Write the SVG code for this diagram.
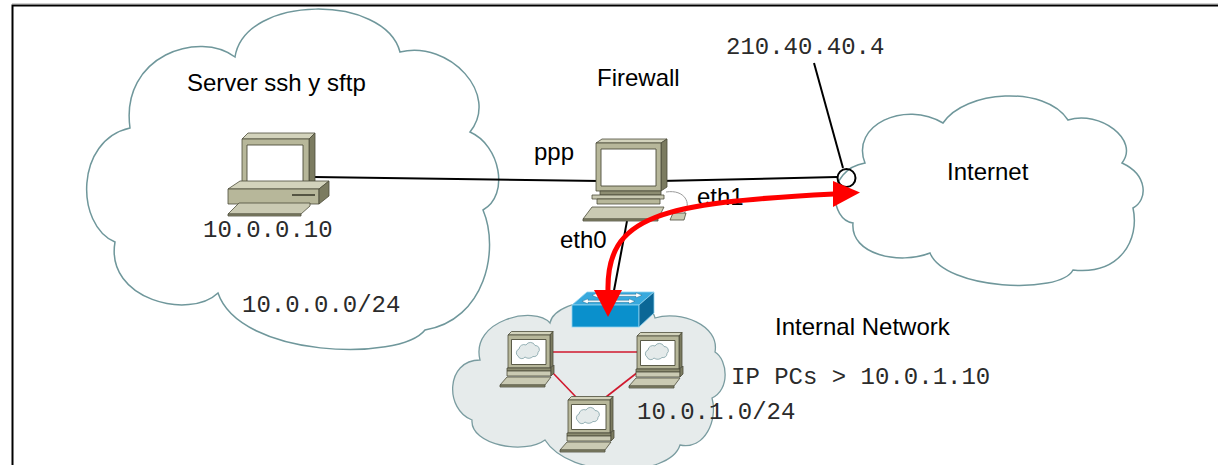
<svg xmlns="http://www.w3.org/2000/svg" width="1218" height="465" viewBox="0 0 1218 465">
  <style>
    .cloud { fill: #ffffff; stroke: #6f979b; stroke-width: 1.5; }
    .cloud-lan { fill: #e6ebeb; stroke: #7a9ca0; stroke-width: 1.3; }
    .wire { stroke: #000; stroke-width: 2; fill: none; }
    .lan { stroke: #d0192e; stroke-width: 1.6; fill: none; }
    .flow { stroke: #ff0000; stroke-width: 5; fill: none; }
    .head { fill: #ff0000; }
    .lbl { font-family: "Liberation Sans", Arial, sans-serif; font-size: 24px; fill: #000; }
    .ip { font-family: "Liberation Mono", "Courier New", monospace; font-size: 24px; fill: #2b2b2b; }
    .pc-top { fill: #d3d3bc; }
    .pc-front { fill: #b7b79a; }
    .pc-side { fill: #7b7b60; }
    .pc-dark { fill: #8c8c71; }
    .pc-key { fill: #cacab3; }
    .pc-edge { stroke: #4d4d3a; stroke-width: 0.8; stroke-linejoin: round; }
    .screen { fill: #ffffff; stroke: #4d4d3a; stroke-width: 0.9; }
  </style>
  <defs>
    <!-- small workstation with a cloud on its screen -->
    <symbol id="mini-pc" overflow="visible">
      <g class="pc-edge">
        <polygon class="pc-top" points="0,0 3.5,-3.5 45,-3.5 42,0"/>
        <polygon class="pc-side" points="42,0 45,-3.5 45,30 42,33"/>
        <rect class="pc-front" x="0" y="0" width="42" height="33"/>
        <rect class="screen" x="3.5" y="4.5" width="34.5" height="25"/>
        <rect class="pc-dark" x="-1" y="33" width="44" height="3"/>
        <rect class="pc-key" x="-1" y="36" width="44" height="5"/>
        <polygon class="pc-side" points="43,33 46,30 46,38 43,41"/>
        <polygon class="pc-key" points="-8,50 -1,42 43,42 37,50"/>
        <rect class="pc-dark" x="-8" y="50" width="45" height="2"/>
      </g>
      <path d="M10,21 a4,4 0 0 1 1,-7 a5,5 0 0 1 7,-4 a5,5 0 0 1 9,0.5 a4,4 0 0 1 3,7 a4,4 0 0 1 -5,4 a6,6 0 0 1 -8,0.5 a4,4 0 0 1 -7,-1 z" fill="#e4eaea" stroke="#7ea0a4" stroke-width="0.8"/>
    </symbol>
  </defs>

  <!-- page frame -->
  <line x1="12" y1="3.5" x2="1218" y2="3.5" stroke="#d0d0d0" stroke-width="1"/>
  <path d="M12.5,465 V5.5 H1218" fill="none" stroke="#000" stroke-width="2"/>

  <!-- server network cloud -->
  <g id="server-net">
    <path class="cloud" d="M235,57 C245,-6 385,-6 400,52 C450,40 500,95 470,132 C500,145 510,195 483,210 C500,250 485,320 425,330 C400,362 240,358 218,293 C190,320 105,300 115,242 C75,225 75,140 130,128 C120,55 200,30 235,57 Z"/>
    <text class="lbl" x="187" y="91">Server ssh y sftp</text>
    <text class="ip" x="203" y="237">10.0.0.10</text>
    <text class="ip" x="242" y="312">10.0.0.0/24</text>
  </g>

  <!-- internal network cloud -->
  <g id="internal-net">
    <path class="cloud-lan" d="M480,360 C470,320 535,305 550,323 C555,295 650,290 655,318 C680,310 720,325 715,352 C728,360 730,390 712,398 C718,420 705,450 680,445 C670,478 570,480 545,440 C525,455 470,445 472,420 C445,410 445,360 480,360 Z"/>
    <text class="lbl" x="775" y="335">Internal Network</text>
    <text class="ip" x="731" y="384">IP PCs &gt; 10.0.1.10</text>
    <text class="ip" x="637" y="419">10.0.1.0/24</text>
  </g>

  <!-- internet cloud -->
  <g id="internet">
    <path class="cloud" stroke-width="1.3" d="M865,163 C850,125 905,100 943,123 C965,90 1045,85 1068,120 C1100,110 1140,140 1122,163 C1148,175 1148,200 1133,208 C1140,240 1120,275 1073,270 C1060,295 945,290 930,253 C900,265 850,255 853,223 C830,220 825,170 865,163 Z"/>
    <text class="lbl" x="947" y="180">Internet</text>
  </g>

  <!-- links -->
  <g id="connectors">
    <line class="wire" x1="314" y1="177" x2="600" y2="181"/>
    <line class="wire" x1="660" y1="181" x2="837" y2="177"/>
    <line class="wire" stroke-width="1.8" x1="814" y1="63" x2="843" y2="168"/>
    <circle cx="846.5" cy="178" r="9" fill="none" stroke="#000" stroke-width="2"/>
    <line class="wire" stroke-width="1.8" x1="627" y1="221" x2="613" y2="296"/>
    <line class="lan" x1="550" y1="352" x2="637" y2="352"/>
    <line class="lan" x1="553" y1="373" x2="576" y2="397"/>
    <line class="lan" x1="638" y1="372" x2="606" y2="397"/>
  </g>

  <!-- server workstation -->
  <g id="server-pc" class="pc-edge">
    <polygon class="pc-top" points="242,139 248,133 315,133 309,139"/>
    <polygon class="pc-side" points="309,139 315,133 315,181 309,186"/>
    <rect class="pc-front" x="242" y="139" width="67" height="47"/>
    <rect class="screen" x="247" y="145" width="56" height="37"/>
    <polygon class="pc-top" points="228,189 240,181 329,181 319,189"/>
    <rect class="pc-front" x="228" y="189" width="91" height="15"/>
    <polygon class="pc-side" points="319,189 329,181 329,196 319,204"/>
    <line x1="292" y1="195" x2="315" y2="195" stroke="#3d3d2e" stroke-width="1.6"/>
    <polygon class="pc-key" points="228,214 239,203 310,203 310,206 301,214"/>
    <rect class="pc-dark" x="228" y="214" width="73" height="2"/>
  </g>

  <!-- firewall workstation -->
  <g id="firewall" class="pc-edge">
    <path d="M666,192 C685,189 692,204 684,213" fill="none" stroke="#9a9a9a" stroke-width="1"/>
    <polygon class="pc-top" points="596,143 602,139 667,139 661,143"/>
    <polygon class="pc-side" points="661,143 667,139 667,187 661,191"/>
    <rect class="pc-front" x="596" y="143" width="65" height="48"/>
    <rect class="screen" x="601" y="149" width="55" height="37"/>
    <rect class="pc-dark" x="600" y="191" width="61" height="4"/>
    <rect class="pc-key" x="592" y="195" width="72" height="4"/>
    <rect class="pc-front" x="597" y="199" width="63" height="5"/>
    <polygon class="pc-key" points="583,219 592,207 664,207 658,219"/>
    <rect class="pc-dark" x="583" y="219" width="75" height="2"/>
    <polygon class="pc-key" points="670,220 673,213 686,213 684,220"/>
    <text class="lbl" x="597" y="86" stroke="none">Firewall</text>
    <text class="lbl" x="534" y="160" stroke="none">ppp</text>
    <text class="lbl" x="697" y="205" stroke="none">eth1</text>
    <text class="lbl" x="560" y="248" stroke="none">eth0</text>
  </g>

  <text id="public-ip" class="ip" x="726" y="54">210.40.40.4</text>

  <!-- LAN switch -->
  <g id="switch">
    <polygon points="572,305 587,292 654,292 639,305" fill="#38a9dd" stroke="#8fd3f0" stroke-width="0.8"/>
    <rect x="572" y="305" width="67" height="22" fill="#0a90cc" stroke="#8fd3f0" stroke-width="0.8"/>
    <polygon points="639,305 654,292 654,313 639,327" fill="#0b6796" stroke="#8fd3f0" stroke-width="0.8"/>
    <g fill="#ffffff" stroke="#1d5f80" stroke-width="0.4">
      <polygon points="618,294.3 636,294.3 636,292.8 642,295.3 636,297.8 636,296.3 618,296.3"/>
      <polygon points="611,300.3 629,300.3 629,298.8 635,301.3 629,303.8 629,302.3 611,302.3"/>
      <polygon points="612,294.3 598,294.3 598,292.8 592,295.3 598,297.8 598,296.3 612,296.3"/>
      <polygon points="605,300.3 588,300.3 588,298.8 582,301.3 588,303.8 588,302.3 605,302.3"/>
    </g>
  </g>

  <!-- hosts on the internal network -->
  <g id="host-1"><use href="#mini-pc" x="508" y="335"/></g>
  <g id="host-2"><use href="#mini-pc" x="568" y="400"/></g>
  <g id="host-3"><use href="#mini-pc" x="637" y="336"/></g>

  <!-- traffic path from the LAN out to the internet -->
  <g id="traffic">
    <path class="flow" d="M608,292 C606,215 660,203 834,194"/>
    <polygon class="head" points="833,181 833,207 860,192.5"/>
    <polygon class="head" points="594,290 622,290 608,317"/>
  </g>
</svg>
